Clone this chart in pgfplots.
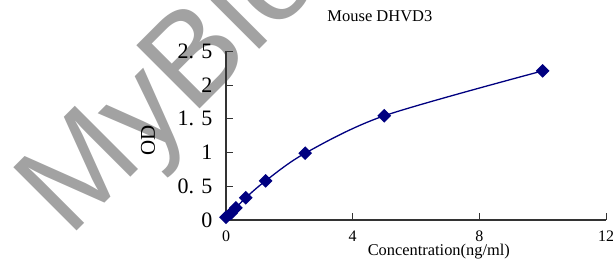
\documentclass[border=0pt]{standalone}
\usepackage{fontspec}
\setmainfont{Liberation Serif}
\newfontfamily\wmfont{Liberation Sans}
\usepackage{pgfplots}
\pgfplotsset{compat=1.18}
\definecolor{navyline}{RGB}{0,0,128}
\definecolor{wmgray}{RGB}{162,162,162}
\begin{document}
\begin{tikzpicture}
\useasboundingbox (0,0) rectangle (613bp,267bp);
\clip (0,0) rectangle (613bp,267bp);
\node[anchor=base west, rotate=45, inner sep=0pt, text=wmgray, font=\wmfont\fontsize{130bp}{130bp}\selectfont] at (69.5bp,28bp) {MyBio};
\begin{axis}[
  at={(226bp,47bp)}, anchor=south west,
  scale only axis, width=380bp, height=168.7bp,
  xmin=0, xmax=12, ymin=0, ymax=2.5,
  axis lines=left, axis line style={-, black!80, line width=1.2bp},
  xtick={0,4,8,12}, ytick={0,0.5,1,1.5,2,2.5},
  yticklabels={0,0. 5,1,1. 5,2,2. 5},
  tick align=inside, major tick length=6.5bp,
  tick style={black!80, line width=0.9bp},
  /pgf/number format/assume math mode=true,
  x tick label style={font=\fontsize{16bp}{16bp}\selectfont, yshift=-7bp},
  y tick label style={font=\fontsize{22bp}{22bp}\selectfont, xshift=-10bp},
  title={Mouse DHVD3},
  title style={at={(rel axis cs:0.405,1.17)}, anchor=center, font=\fontsize{16.5bp}{16.5bp}\selectfont},
  xlabel={Concentration(ng/ml)},
  xlabel style={at={(rel axis cs:0.56,-0.19)}, anchor=center, font=\fontsize{16.4bp}{16.4bp}\selectfont},
  ylabel={OD},
  ylabel style={at={(rel axis cs:-0.205,0.47)}, anchor=center, rotate=0, font=\fontsize{21bp}{21bp}\selectfont},
  clip=false,
]
\addplot[navyline, line width=1.3bp, smooth, mark=square*, mark size=4.2bp, mark options={rotate=45, fill=navyline, draw=navyline}]
coordinates {
(0,0.04) (0.156,0.10) (0.3125,0.18) (0.625,0.33) (1.25,0.58) (2.5,0.99) (5,1.545) (10,2.21)
};
\end{axis}
\end{tikzpicture}
\end{document}
